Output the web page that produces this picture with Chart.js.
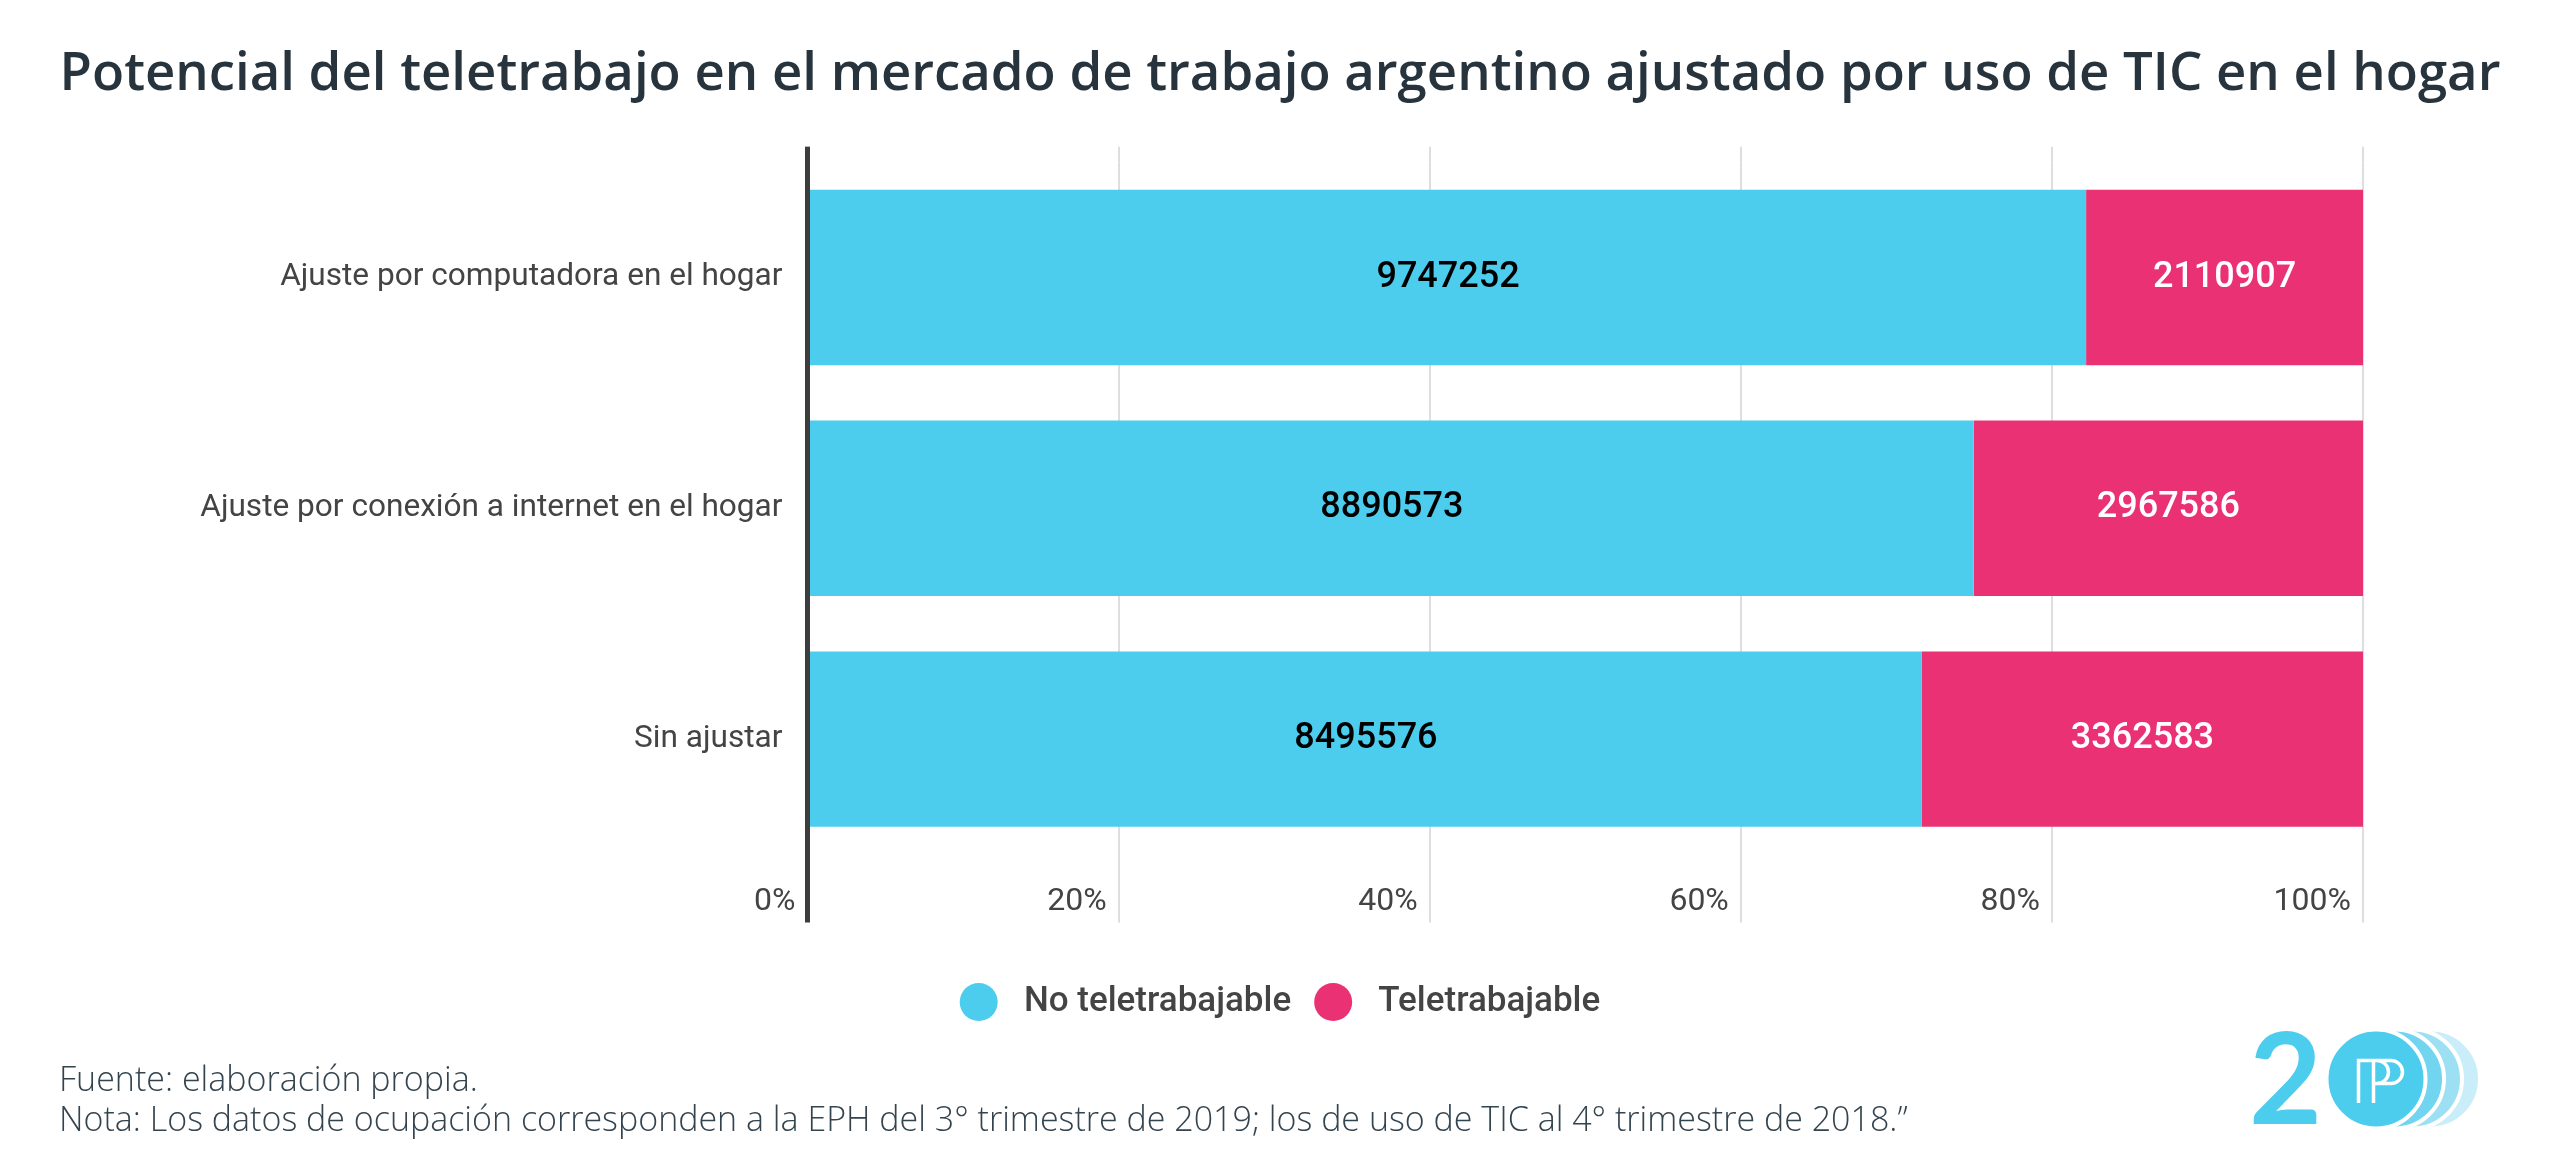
<!DOCTYPE html>
<html><head><meta charset="utf-8">
<script src="https://cdn.jsdelivr.net/npm/chart.js@4.4.0/dist/chart.umd.min.js"></script>
<style>
html,body{margin:0;padding:0;background:#fff;}
#wrap{position:relative;width:2560px;height:1176px;}
#logo{position:absolute;left:0;top:0;pointer-events:none;}
</style></head><body>
<div id="wrap"><canvas id="c"></canvas>
<svg id="logo" width="2560" height="1176" viewBox="0 0 2560 1176">
  <text x="2285.5" y="1124" font-family="Lato" font-weight="700" font-size="126" fill="#4ccdee" text-anchor="middle">2</text>
  <circle cx="2430.5" cy="1079" r="49.5" fill="#c9eef9" stroke="#fff" stroke-width="4"/>
  <circle cx="2412.5" cy="1079" r="49.5" fill="#9ee0f3" stroke="#fff" stroke-width="4"/>
  <circle cx="2394.5" cy="1079" r="49.5" fill="#72d5f0" stroke="#fff" stroke-width="4"/>
  <circle cx="2376" cy="1079" r="49.5" fill="#4ccdee" stroke="#fff" stroke-width="4"/>
  <path d="M2358.5 1103 V1060.5 H2377 A11.5 11.5 0 0 1 2377 1083.5 H2373.5 M2373.5 1103 V1060.5 H2391 A11.5 11.5 0 0 1 2391 1083.5 H2373.5" fill="none" stroke="#fff" stroke-width="3.5"/>
</svg>
</div>
<script>
const categories = ["Ajuste por computadora en el hogar", "Ajuste por conexión a internet en el hogar", "Sin ajustar"];
const seriesNames = ["No teletrabajable", "Teletrabajable"];
const noTeletrabajable = [9747252, 8890573, 8495576];
const teletrabajable = [2110907, 2967586, 3362583];
const xTickValues = [0, 20, 40, 60, 80, 100];
const titleText = "Potencial del teletrabajo en el mercado de trabajo argentino ajustado por uso de TIC en el hogar";
const footerLines = [
  "Fuente: elaboración propia.",
  "Nota: Los datos de ocupación corresponden a la EPH del 3° trimestre de 2019; los de uso de TIC al 4° trimestre de 2018.”"
];

const totals = noTeletrabajable.map((v, i) => v + teletrabajable[i]);
const pctNo = noTeletrabajable.map((v, i) => v / totals[i] * 100);
const pctSi = teletrabajable.map((v, i) => v / totals[i] * 100);

const gridColor = ctx => (ctx.tick && ctx.tick.value === 0) ? '#3d3d3d' : '#dedede';
const gridWidth = ctx => (ctx.tick && ctx.tick.value === 0) ? 5 : 2;

const valueLabels = {
  id: 'valueLabels',
  afterDatasetsDraw(chart) {
    const ctx = chart.ctx;
    chart.data.datasets.forEach((ds, di) => {
      const meta = chart.getDatasetMeta(di);
      meta.data.forEach((bar, i) => {
        const p = bar.getProps(['x', 'base', 'y'], true);
        ctx.save();
        ctx.font = '500 36px Roboto';
        ctx.fillStyle = ds.labelColor;
        ctx.textAlign = 'center';
        ctx.textBaseline = 'middle';
        ctx.fillText(String(ds.counts[i]), (p.x + p.base) / 2, p.y);
        ctx.restore();
      });
    });
  }
};

function make() {
  new Chart(document.getElementById('c'), {
    type: 'bar',
    data: {
      labels: categories,
      datasets: [
        { label: seriesNames[0], data: pctNo, counts: noTeletrabajable, labelColor: '#000000',
          backgroundColor: '#4ccdee', borderWidth: 0, barPercentage: 0.76, categoryPercentage: 1 },
        { label: seriesNames[1], data: pctSi, counts: teletrabajable, labelColor: '#ffffff',
          backgroundColor: '#ea3174', borderWidth: 0, barPercentage: 0.76, categoryPercentage: 1 }
      ]
    },
    options: {
      indexAxis: 'y',
      responsive: true,
      maintainAspectRatio: false,
      animation: false,
      layout: { padding: { top: 43, left: 59, right: 59, bottom: 35 } },
      scales: {
        x: {
          type: 'linear', stacked: true, min: 0, max: 100, position: 'bottom',
          afterBuildTicks: s => { s.ticks = xTickValues.map(v => ({ value: v })); },
          ticks: {
            callback: v => v + '%', align: 'end', labelOffset: -12, padding: -39.7,
            maxRotation: 0, autoSkip: false,
            font: { family: 'Roboto', size: 32 }, color: '#444444'
          },
          grid: { color: gridColor, lineWidth: gridWidth, tickLength: 68, drawOnChartArea: true, tickColor: gridColor, tickWidth: gridWidth },
          border: { display: false },
          afterFit: s => { s.height = 105.5; }
        },
        x2: {
          type: 'linear', min: 0, max: 100, position: 'top',
          afterBuildTicks: s => { s.ticks = xTickValues.map(v => ({ value: v })); },
          ticks: { display: false },
          grid: { color: gridColor, lineWidth: gridWidth, tickLength: 15.5, drawOnChartArea: false, tickColor: gridColor, tickWidth: gridWidth },
          border: { display: false }
        },
        y: {
          stacked: true, position: 'left',
          ticks: { font: { family: 'Roboto', size: 31.6 }, color: '#444444', padding: 25 },
          grid: { display: false, drawTicks: false },
          border: { display: true, color: '#3d3d3d', width: 5, z: 1 },
          afterFit: s => { s.width = 748.5; }
        },
        y2: {
          type: 'linear', position: 'right', min: 0, max: 1,
          ticks: { display: false },
          grid: { display: false, drawTicks: false },
          border: { display: false },
          afterFit: s => { s.width = 138; }
        }
      },
      plugins: {
        title: {
          display: true, text: titleText, align: 'center', color: '#27343d',
          font: { family: 'Open Sans', weight: 600, size: 52.7, lineHeight: 1.2 },
          padding: { top: 0, bottom: 40.4 }
        },
        subtitle: {
          display: true, text: footerLines, position: 'bottom', align: 'start', color: '#34444f',
          font: { family: 'Open Sans', weight: 300, size: 34, lineHeight: 40 / 34 },
          padding: { top: 30, bottom: 0 }
        },
        legend: {
          display: true, position: 'bottom', align: 'center',
          labels: {
            font: { family: 'Roboto', weight: 500, size: 35 }, color: '#444444',
            boxWidth: 38, boxHeight: 38, useBorderRadius: true, borderRadius: 19, padding: 23,
            generateLabels: chart => Chart.defaults.plugins.legend.labels.generateLabels(chart).map(l => Object.assign(l, { text: ' ' + l.text }))
          }
        },
        tooltip: { enabled: false }
      }
    },
    plugins: [valueLabels]
  });
}

Promise.all([
  document.fonts.load('500 36px Roboto'),
  document.fonts.load('32px Roboto'),
  document.fonts.load('600 52px "Open Sans"'),
  document.fonts.load('300 34px "Open Sans"')
]).then(make, make);
</script>
</body></html>
